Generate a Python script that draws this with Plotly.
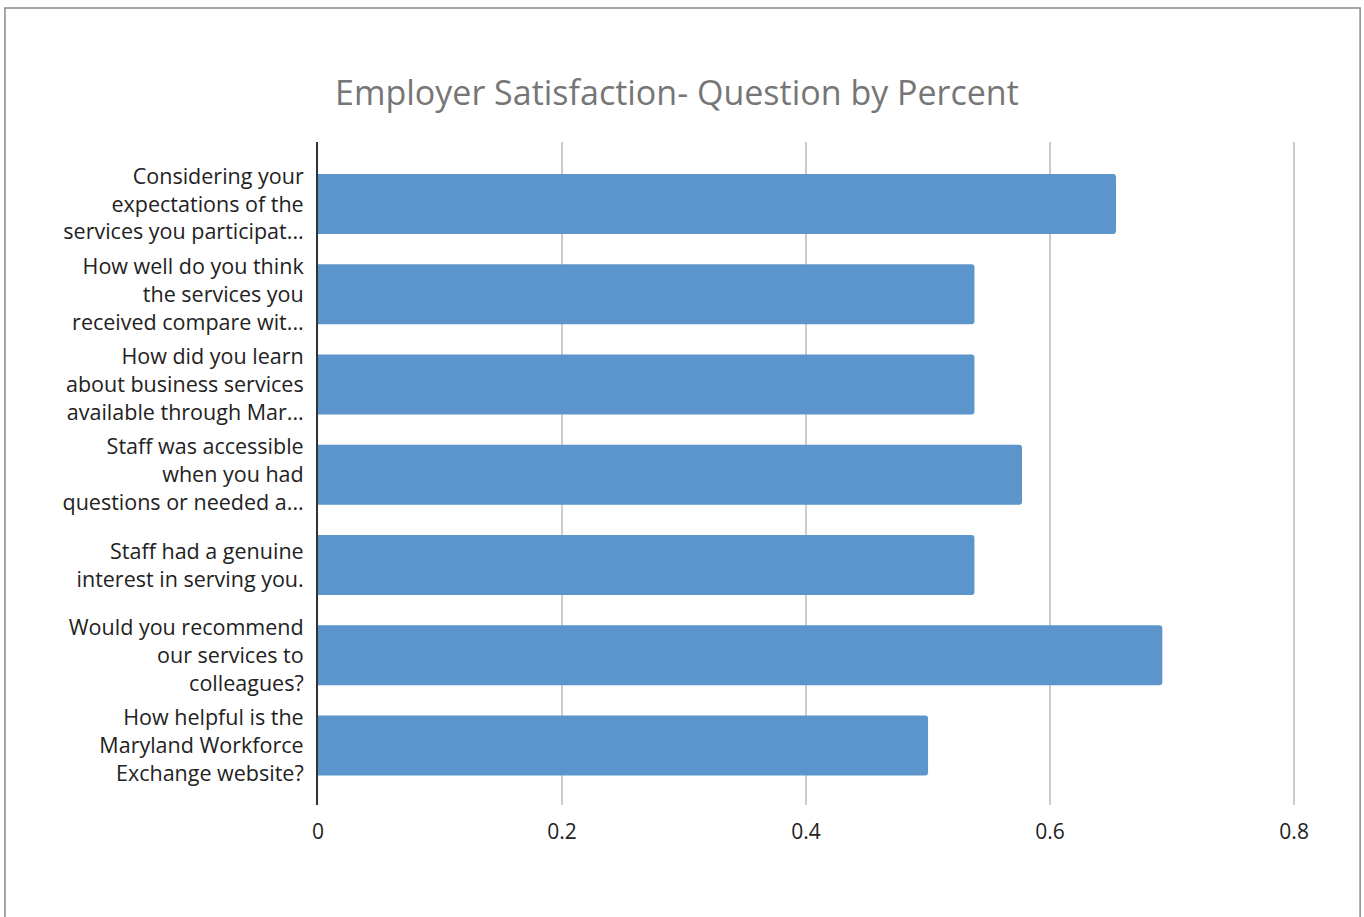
import plotly.graph_objects as go

categories = [
    "Considering your<br>expectations of the<br>services you participat...",
    "How well do you think<br>the services you<br>received compare wit...",
    "How did you learn<br>about business services<br>available through Mar...",
    "Staff was accessible<br>when you had<br>questions or needed a...",
    "Staff had a genuine<br>interest in serving you.",
    "Would you recommend<br>our services to<br>colleagues?",
    "How helpful is the<br>Maryland Workforce<br>Exchange website?",
]
values = [0.654, 0.538, 0.538, 0.577, 0.538, 0.692, 0.5]
tick_vals = [0, 0.2, 0.4, 0.6, 0.8]
tick_text = ["0", "0.2", "0.4", "0.6", "0.8"]

FONT = "'Open Sans', Lato, sans-serif"

fig = go.Figure(go.Bar(
    x=values, y=categories, orientation="h",
    marker=dict(color="#5B95CB", line=dict(width=0), cornerradius=3),
))

X_MAX = 0.804
plot_w = 976 * X_MAX / 0.8

fig.update_layout(
    width=1364, height=917,
    margin=dict(l=318, r=int(round(1364 - 318 - plot_w)), t=142, b=112),
    paper_bgcolor="white", plot_bgcolor="white",
    bargap=0.335,
    showlegend=False,
    title=dict(text="Employer Satisfaction- Question by Percent",
               x=0.4963, xanchor="center", y=0.898, yanchor="middle",
               xref="container", yref="container",
               font=dict(family=FONT, size=34, color="#767676")),
    font=dict(family=FONT, size=21.5, color="#222222"),
    shapes=[dict(type="rect", xref="paper", yref="paper",
                 x0=-313 / plot_w, x1=1042 / plot_w, y0=-0.2, y1=1 + 134 / 663,
                 line=dict(color="#8a8a8a", width=1.5), layer="below")],
)

fig.update_xaxes(
    range=[0, X_MAX], tickvals=tick_vals, ticktext=tick_text,
    showgrid=True, gridcolor="#cccccc", gridwidth=2,
    zeroline=False, showline=False,
    ticks="", ticklabelstandoff=12,
    tickfont=dict(family=FONT, size=21, color="#222222"),
)
fig.update_yaxes(
    range=[6.659, -0.687], showgrid=False, zeroline=False,
    showline=True, linecolor="#333333", linewidth=2,
    ticks="", ticklabelstandoff=8,
    tickfont=dict(family=FONT, size=21.5, color="#222222"),
)

fig.write_html("out.html", config={"displayModeBar": False},
               post_script="document.body.style.margin='0';document.body.style.overflow='hidden';")
